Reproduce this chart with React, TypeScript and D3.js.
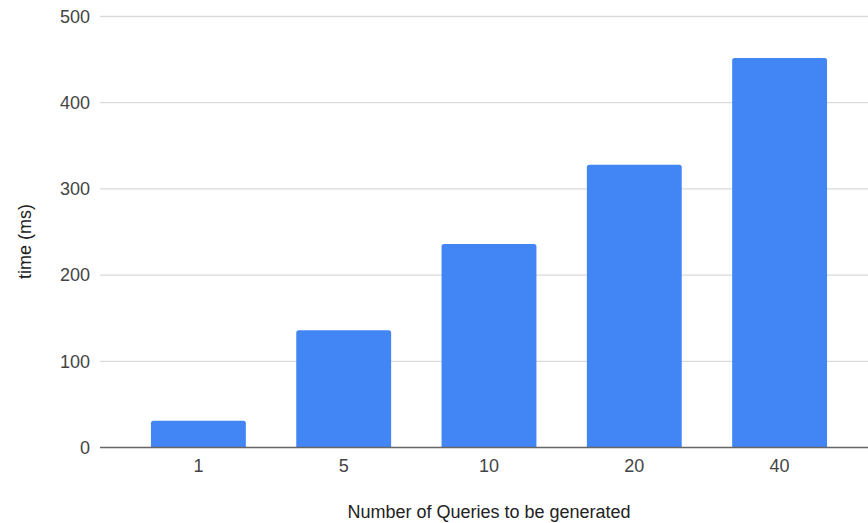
import React from "react";
import * as d3 from "d3";

const categories: string[] = ["1", "5", "10", "20", "40"];
const timesMs: number[] = [31, 136, 236, 328, 452];
const yTicks: number[] = [0, 100, 200, 300, 400, 500];

const WIDTH = 868;
const HEIGHT = 523;
const FONT = "'Liberation Sans', Arial, sans-serif";

function topRoundedBar(x: number, y: number, w: number, h: number, r: number): string {
  const rr = Math.min(r, h / 2, w / 2);
  const p = d3.path();
  p.moveTo(x, y + h);
  p.lineTo(x, y + rr);
  p.quadraticCurveTo(x, y, x + rr, y);
  p.lineTo(x + w - rr, y);
  p.quadraticCurveTo(x + w, y, x + w, y + rr);
  p.lineTo(x + w, y + h);
  p.closePath();
  return p.toString();
}

export default function App() {
  const y = d3.scaleLinear().domain([0, 500]).range([447.5, 16.5]);
  const pad = 0.347;
  const x = d3
    .scaleBand<string>()
    .domain(categories)
    .range([125.75, 852.25])
    .paddingInner(pad)
    .paddingOuter(pad / 2);

  return (
    <svg
      width={WIDTH}
      height={HEIGHT}
      style={{ position: "absolute", left: 0, top: 0, background: "#fff" }}
      fontFamily={FONT}
    >
      {/* horizontal gridlines and value ticks */}
      {yTicks.map((t) => (
        <g key={t}>
          {t !== 0 && (
            <line x1={100} x2={WIDTH} y1={y(t)} y2={y(t)} stroke="#dadada" strokeWidth={1.3} />
          )}
          <text
            x={90}
            y={y(t)}
            dy="0.35em"
            textAnchor="end"
            fontSize={18}
            fill="#444"
          >
            {t}
          </text>
        </g>
      ))}

      {/* bars */}
      {categories.map((c, i) => {
        const bx = x(c) as number;
        const by = y(timesMs[i]);
        return (
          <path
            key={c}
            d={topRoundedBar(bx, by, x.bandwidth(), y(0) - by, 2.5)}
            fill="#4285f4"
          />
        );
      })}

      {/* baseline */}
      <line x1={100} x2={WIDTH} y1={y(0)} y2={y(0)} stroke="#666" strokeWidth={1.5} />

      {/* category labels */}
      {categories.map((c) => (
        <text
          key={c}
          x={(x(c) as number) + x.bandwidth() / 2}
          y={472}
          textAnchor="middle"
          fontSize={18}
          fill="#444"
        >
          {c}
        </text>
      ))}

      {/* axis titles */}
      <text x={489} y={518} textAnchor="middle" fontSize={18} fill="#222">
        Number of Queries to be generated
      </text>
      <text
        transform="translate(31,241.5) rotate(-90)"
        textAnchor="middle"
        fontSize={18}
        fill="#222"
      >
        time (ms)
      </text>
    </svg>
  );
}
